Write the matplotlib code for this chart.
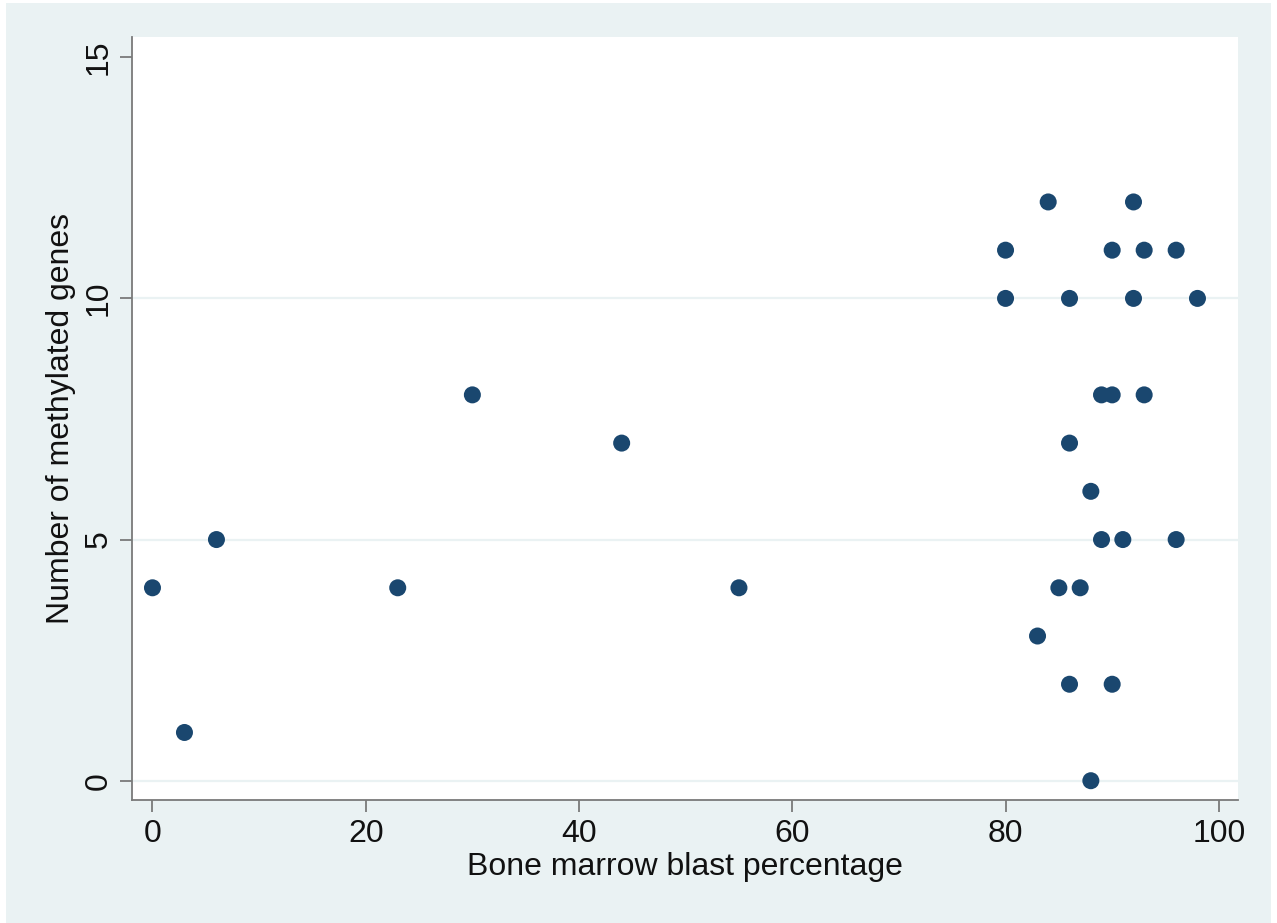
import matplotlib
matplotlib.use("Agg")
import matplotlib.pyplot as plt
from matplotlib.patches import Rectangle

plt.rcParams['font.family'] = ['Liberation Sans', 'DejaVu Sans']

# Data: bone marrow blast percentage vs number of methylated genes
blast_pct = [0, 3, 6, 23, 30, 44, 55,
             80, 80, 83, 84, 85, 86, 86, 86, 87, 88, 88,
             89, 89, 90, 90, 90, 91, 92, 92, 93, 93, 96, 96, 98]
methylated = [4, 1, 5, 4, 8, 7, 4,
              11, 10, 3, 12, 4, 10, 7, 2, 4, 6, 0,
              8, 5, 11, 8, 2, 5, 12, 10, 11, 8, 11, 5, 10]

x_ticks = [0, 20, 40, 60, 80, 100]
y_ticks = [0, 5, 10, 15]
x_label = "Bone marrow blast percentage"
y_label = "Number of methylated genes"

BG = "#EAF2F3"
NAVY = "#1A476F"
AXC = "#7A7A7A"

W, H = 1277, 923
fig = plt.figure(figsize=(W / 100, H / 100), dpi=100, facecolor="white")
fig.patches.append(Rectangle((6 / W, 0), (1271 - 6) / W, (920) / H,
                             transform=fig.transFigure, facecolor=BG,
                             edgecolor="none", zorder=-10))

ax = fig.add_axes([132 / W, (H - 800) / H, (1238 - 132) / W, (800 - 37) / H])
ax.set_facecolor("white")

for yv in [0, 5, 10]:
    ax.axhline(yv, color=BG, lw=1.6, zorder=1)

ax.scatter(blast_pct, methylated, s=150, color=NAVY, edgecolors="none", zorder=3)

ax.set_xlim(-1.92, 101.8)
ax.set_ylim(-0.4, 15.42)
ax.set_xticks(x_ticks)
ax.set_yticks(y_ticks)
ax.set_yticklabels([str(v) for v in y_ticks], rotation=90, va="center")

for s in ["top", "right"]:
    ax.spines[s].set_visible(False)
for s in ["left", "bottom"]:
    ax.spines[s].set_color(AXC)
    ax.spines[s].set_linewidth(1.3)

ax.tick_params(axis="both", length=8.5, width=1.3, color=AXC,
               labelsize=23, labelcolor="#111111", pad=5)

ax.set_xlabel(x_label, fontsize=23, color="#111111", labelpad=2)
ax.set_ylabel(y_label, fontsize=23, color="#111111", labelpad=5)

fig.savefig("out.png", dpi=100, facecolor="white")
